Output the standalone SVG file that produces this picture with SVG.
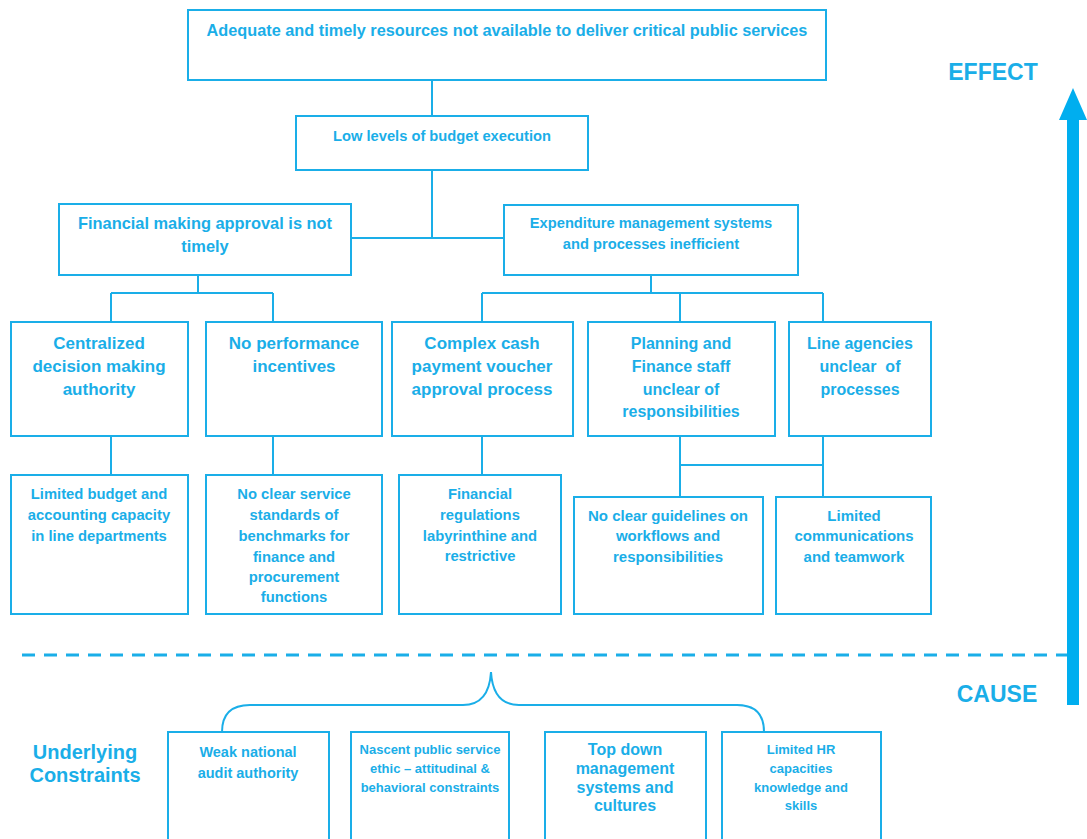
<svg xmlns="http://www.w3.org/2000/svg" width="1087" height="839" viewBox="0 0 1087 839">
  <style>
    .box { fill: #ffffff; stroke: #1aaee8; stroke-width: 2; }
    .ln { fill: none; stroke: #1aaee8; stroke-width: 2; }
    .t { fill: #1aaee8; font-family: "Liberation Sans", Arial, sans-serif; font-weight: bold; text-anchor: middle; }
    .s17 { font-size: 17px; }
    .s16 { font-size: 16px; }
    .s15 { font-size: 15px; }
    .s148 { font-size: 14.8px; }
    .s13 { font-size: 13px; }
  </style>
  <rect width="1087" height="839" fill="#ffffff"/>

  <!-- connectors -->
  <g id="connectors">
    <path class="ln" d="M432 80 V116 M432 170 V238 M351 238 H504"/>
    <path class="ln" d="M198 275 V293 M111 293 H273 M111 293 V322 M273 293 V322"/>
    <path class="ln" d="M651 275 V293 M482 293 H823 M482 293 V322 M680 293 V322 M823 293 V322"/>
    <path class="ln" d="M111 436 V475 M273 436 V475 M482 436 V475"/>
    <path class="ln" d="M680 436 V497 M823 436 V497 M680 465 H823"/>
  </g>

  <g id="n-top">
    <rect class="box" x="188" y="10" width="638" height="70"/>
    <text class="t" x="507" y="36" style="font-size:16.3px">Adequate and timely resources not available to deliver critical public services</text>
  </g>
  <g id="n-low">
    <rect class="box" x="296" y="116" width="292" height="54"/>
    <text class="t" x="442" y="141" style="font-size:14.7px">Low levels of budget execution</text>
  </g>
  <g id="n-financial">
    <rect class="box" x="59" y="204" width="292" height="71"/>
    <text class="t" x="205" y="229" style="font-size:16.4px">Financial making approval is not</text>
    <text class="t" x="205" y="252" style="font-size:16.4px">timely</text>
  </g>
  <g id="n-expenditure">
    <rect class="box" x="504" y="205" width="294" height="70"/>
    <text class="t" x="651" y="228" style="font-size:14.7px">Expenditure management systems</text>
    <text class="t" x="651" y="249" style="font-size:14.7px">and processes inefficient</text>
  </g>

  <g id="n-centralized">
    <rect class="box" x="11" y="322" width="177" height="114"/>
    <text class="t s17" x="99" y="349">Centralized</text>
    <text class="t s17" x="99" y="372">decision making</text>
    <text class="t s17" x="99" y="395">authority</text>
  </g>
  <g id="n-noperf">
    <rect class="box" x="206" y="322" width="176" height="114"/>
    <text class="t s17" x="294" y="349">No performance</text>
    <text class="t s17" x="294" y="372">incentives</text>
  </g>
  <g id="n-complex">
    <rect class="box" x="392" y="322" width="181" height="114"/>
    <text class="t s17" x="482" y="349">Complex cash</text>
    <text class="t s17" x="482" y="372">payment voucher</text>
    <text class="t s17" x="482" y="395">approval process</text>
  </g>
  <g id="n-planning">
    <rect class="box" x="588" y="322" width="187" height="114"/>
    <text class="t s16" x="681" y="349">Planning and</text>
    <text class="t s16" x="681" y="372">Finance staff</text>
    <text class="t s16" x="681" y="395">unclear of</text>
    <text class="t s16" x="681" y="417">responsibilities</text>
  </g>
  <g id="n-line">
    <rect class="box" x="789" y="322" width="142" height="114"/>
    <text class="t s16" x="860" y="349">Line agencies</text>
    <text class="t s16" x="860" y="372" xml:space="preserve">unclear  of</text>
    <text class="t s16" x="860" y="395">processes</text>
  </g>

  <g id="n-limbudget">
    <rect class="box" x="11" y="475" width="177" height="139"/>
    <text class="t s148" x="99" y="499">Limited budget and</text>
    <text class="t s148" x="99" y="520">accounting capacity</text>
    <text class="t s148" x="99" y="541">in line departments</text>
  </g>
  <g id="n-noclear">
    <rect class="box" x="206" y="475" width="176" height="139"/>
    <text class="t s148" x="294" y="499">No clear service</text>
    <text class="t s148" x="294" y="520">standards of</text>
    <text class="t s148" x="294" y="541">benchmarks for</text>
    <text class="t s148" x="294" y="562">finance and</text>
    <text class="t s148" x="294" y="582">procurement</text>
    <text class="t s148" x="294" y="602">functions</text>
  </g>
  <g id="n-regs">
    <rect class="box" x="399" y="475" width="162" height="139"/>
    <text class="t s148" x="480" y="499">Financial</text>
    <text class="t s148" x="480" y="520">regulations</text>
    <text class="t s148" x="480" y="541">labyrinthine and</text>
    <text class="t s148" x="480" y="561">restrictive</text>
  </g>
  <g id="n-guidelines">
    <rect class="box" x="574" y="497" width="189" height="117"/>
    <text class="t s15" x="668" y="521">No clear guidelines on</text>
    <text class="t s15" x="668" y="541">workflows and</text>
    <text class="t s15" x="668" y="562">responsibilities</text>
  </g>
  <g id="n-comms">
    <rect class="box" x="776" y="497" width="155" height="117"/>
    <text class="t s15" x="854" y="521">Limited</text>
    <text class="t s15" x="854" y="541">communications</text>
    <text class="t s15" x="854" y="562">and teamwork</text>
  </g>

  <!-- cause / effect divider and axis -->
  <g id="divider">
    <line x1="22" y1="655" x2="1070" y2="655" stroke="#1aaee8" stroke-width="3" stroke-dasharray="13 9"/>
  </g>
  <g id="axis">
    <rect x="1067" y="115" width="12" height="590" fill="#00aeef"/>
    <polygon points="1059,120 1073,88 1087,120" fill="#00aeef"/>
    <text class="t" x="993" y="80" style="font-size:23px">EFFECT</text>
    <text class="t" x="997" y="702" style="font-size:23px">CAUSE</text>
  </g>

  <!-- brace over the underlying constraints -->
  <g id="brace">
    <path class="ln" d="M222 732 Q222 705 250 705 H463 Q489 705 491 672 Q493 705 519 705 H737 Q764 705 764 732"/>
  </g>

  <g id="n-underlying">
    <text class="t" x="85" y="759" style="font-size:20px">Underlying</text>
    <text class="t" x="85" y="782" style="font-size:20px">Constraints</text>
  </g>
  <g id="n-audit">
    <rect class="box" x="168" y="732" width="161" height="120"/>
    <text class="t" x="248" y="757" style="font-size:14.5px">Weak national</text>
    <text class="t" x="248" y="778" style="font-size:14.5px">audit authority</text>
  </g>
  <g id="n-nascent">
    <rect class="box" x="351" y="732" width="158" height="120"/>
    <text class="t s13" x="430" y="754">Nascent public service</text>
    <text class="t s13" x="430" y="773">ethic – attitudinal &amp;</text>
    <text class="t s13" x="430" y="792">behavioral constraints</text>
  </g>
  <g id="n-topdown">
    <rect class="box" x="545" y="732" width="161" height="120"/>
    <text class="t s16" x="625" y="755">Top down</text>
    <text class="t s16" x="625" y="774">management</text>
    <text class="t s16" x="625" y="793">systems and</text>
    <text class="t s16" x="625" y="811">cultures</text>
  </g>
  <g id="n-hr">
    <rect class="box" x="722" y="732" width="159" height="120"/>
    <text class="t s13" x="801" y="754">Limited HR</text>
    <text class="t s13" x="801" y="773">capacities</text>
    <text class="t s13" x="801" y="792">knowledge and</text>
    <text class="t s13" x="801" y="810">skills</text>
  </g>
</svg>
